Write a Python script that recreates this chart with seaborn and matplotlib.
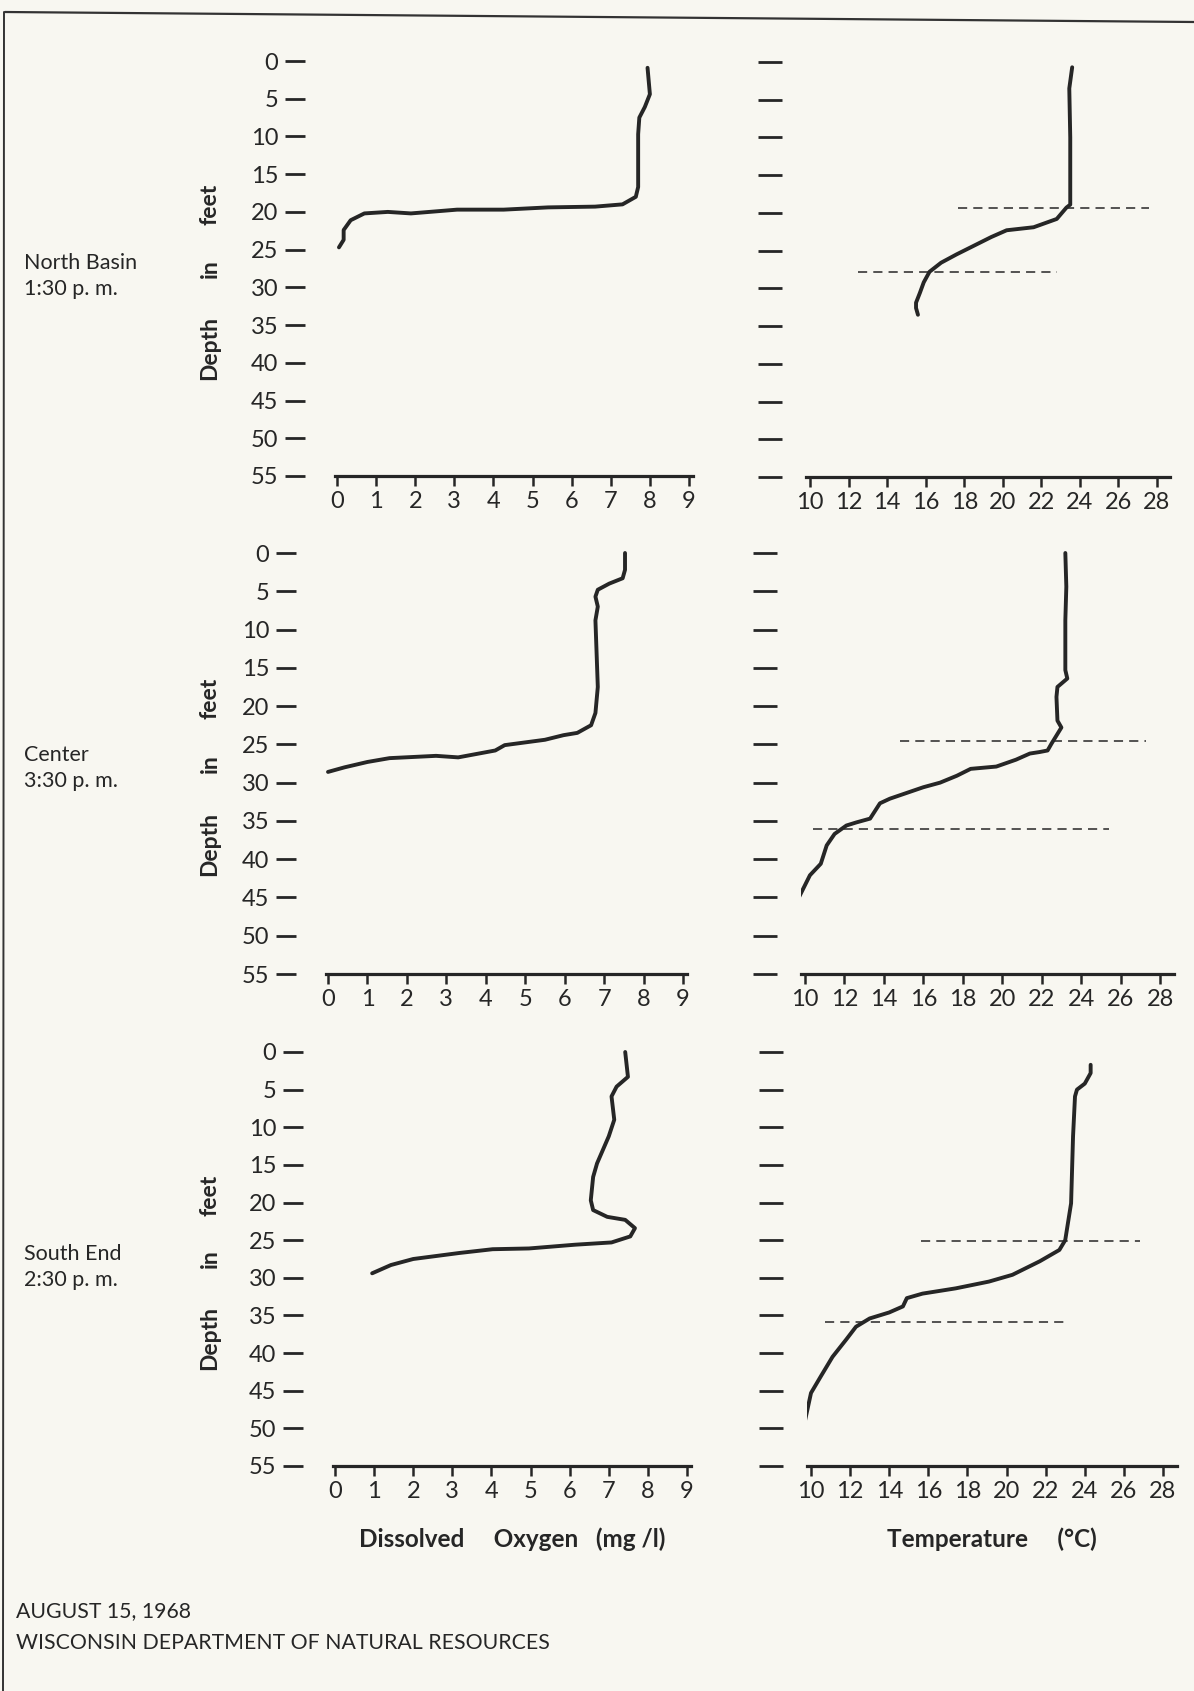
import matplotlib
matplotlib.use("Agg")
import matplotlib.pyplot as plt
import matplotlib.transforms as mtransforms
from matplotlib.lines import Line2D
import seaborn as sns

# --- data ---
stations = ["North Basin", "Center", "South End"]
times = ["1:30 p. m.", "3:30 p. m.", "2:30 p. m."]

depth_ticks = list(range(0, 56, 5))
do_ticks = list(range(0, 10))
temp_ticks = list(range(10, 29, 2))

# dissolved oxygen (mg/l) vs depth (feet)
north_do_depth = [0.9, 4.4, 6.1, 7.5, 9.7, 16.7, 18.0, 19.0, 19.3, 19.4, 19.7, 19.7,
                  20.2, 20.0, 20.2, 21.1, 22.4, 23.7, 24.7]
north_do = [7.94, 8.0, 7.87, 7.73, 7.7, 7.7, 7.64, 7.3, 6.6, 5.4, 4.26, 3.07,
            1.89, 1.3, 0.7, 0.35, 0.17, 0.17, 0.05]

center_do_depth = [0.0, 2.2, 3.3, 4.0, 4.8, 5.7, 7.0, 8.8, 17.5, 20.9, 22.5, 23.5,
                   23.8, 24.4, 25.1, 25.8, 26.7, 26.5, 26.8, 27.3, 28.0, 28.6]
center_do = [7.53, 7.53, 7.47, 7.13, 6.84, 6.78, 6.84, 6.78, 6.84, 6.78, 6.67, 6.32,
             5.97, 5.5, 4.48, 4.24, 3.3, 2.74, 1.56, 1.0, 0.42, 0.0]

south_do_depth = [0.0, 3.3, 4.6, 5.9, 9.0, 11.2, 14.8, 16.6, 19.7, 21.0, 21.9, 22.3,
                  23.4, 24.5, 25.3, 25.6, 26.1, 26.2, 26.7, 27.5, 28.3, 29.4]
south_do = [7.42, 7.49, 7.2, 7.07, 7.14, 7.0, 6.7, 6.6, 6.54, 6.6, 6.96, 7.42,
            7.67, 7.55, 7.07, 6.14, 4.96, 4.03, 3.18, 2.0, 1.43, 0.95]

# temperature (deg C) vs depth (feet)
north_temp_depth = [0.7, 3.5, 10.0, 18.9, 19.3, 20.8, 21.9, 22.3, 23.2, 25.5, 26.6,
                    27.8, 29.2, 30.6, 31.9, 32.6, 33.5]
north_temp = [23.6, 23.45, 23.5, 23.5, 23.3, 22.8, 21.6, 20.2, 19.4, 17.6, 16.8,
              16.2, 15.9, 15.7, 15.5, 15.5, 15.6]

center_temp_depth = [0.0, 4.4, 8.8, 15.3, 16.4, 17.5, 18.8, 21.9, 22.8, 24.9, 25.8,
                     26.0, 26.2, 27.0, 27.9, 28.2, 29.1, 30.0, 30.6, 32.1, 32.7,
                     34.7, 35.2, 35.6, 36.7, 38.2, 40.6, 42.1, 45.2]
center_temp = [23.2, 23.25, 23.2, 23.2, 23.3, 22.8, 22.75, 22.8, 23.0, 22.5, 22.3,
               21.9, 21.4, 20.7, 19.7, 18.4, 17.7, 16.85, 16.0, 14.3, 13.8,
               13.3, 12.6, 12.1, 11.5, 11.1, 10.8, 10.25, 9.65]

south_temp_depth = [1.7, 2.8, 4.2, 5.0, 5.9, 11.2, 20.1, 25.0, 26.3, 27.8, 29.6, 30.5,
                    31.4, 32.1, 32.7, 33.8, 34.6, 35.4, 36.5, 38.2, 40.5, 43.1,
                    45.3, 48.9]
south_temp = [24.3, 24.3, 24.0, 23.6, 23.5, 23.4, 23.3, 23.0, 22.7, 21.7, 20.3, 19.1,
              17.4, 15.7, 14.9, 14.7, 14.0, 13.0, 12.3, 11.8, 11.1, 10.5,
              10.0, 9.7]

# thermocline limits (feet) and the temperature span of each dashed marker
thermo_top = [19.3, 24.5, 25.1]
thermo_top_span = [(17.7, 27.6), (14.8, 27.3), (15.6, 26.8)]
thermo_bottom = [27.8, 36.0, 35.9]
thermo_bottom_span = [(12.5, 22.8), (10.4, 25.4), (10.7, 23.2)]

do_profiles = [(north_do, north_do_depth), (center_do, center_do_depth),
               (south_do, south_do_depth)]
temp_profiles = [(north_temp, north_temp_depth), (center_temp, center_temp_depth),
                 (south_temp, south_temp_depth)]

# --- page layout (pixels on the 1194 x 1691 sheet) ---
W, H = 1194, 1691
INK = "#262626"
PAPER = "#f8f7f1"

# pixel x of first/last tick, pixel y of depth 0 and depth 55
do_frames = [(337, 689, 61, 476), (328, 683, 553, 974), (335, 687, 1052, 1466)]
temp_frames = [(810, 1157, 62, 477), (805, 1160, 553, 974), (811, 1163, 1052, 1466)]
do_lim = (-0.06, 9.11)
temp_lim = (9.8, 28.7)

sns.set_style("white")
plt.rcParams["font.family"] = ["Lato", "DejaVu Sans"]
plt.rcParams["text.color"] = INK

fig = plt.figure(figsize=(W / 100, H / 100), dpi=100, facecolor=PAPER)


def frame_axes(xa, xb, y0, y55, ticks, lim):
    ppu = (xb - xa) / (ticks[-1] - ticks[0])
    left = xa - (ticks[0] - lim[0]) * ppu
    right = xb + (lim[1] - ticks[-1]) * ppu
    top = y0 - (y55 - y0) / 55
    return fig.add_axes([left / W, 1 - y55 / H, (right - left) / W, (y55 - top) / H])


def style_axes(ax, ticks, lim, offset, dash, show_labels):
    ax.set_facecolor("none")
    ax.set_xlim(*lim)
    ax.set_ylim(55, -1)
    ax.set_xticks(ticks)
    ax.set_yticks(depth_ticks)
    for side in ["top", "right", "left"]:
        ax.spines[side].set_visible(False)
    ax.spines["left"].set_position(("outward", offset))
    ax.spines["bottom"].set_linewidth(2.3)
    ax.spines["bottom"].set_color(INK)
    ax.tick_params(axis="y", left=True, direction="out", length=dash, width=2.0,
                   pad=4.5, labelsize=17, colors=INK, labelleft=show_labels)
    ax.tick_params(axis="x", bottom=True, direction="out", length=7, width=1.8,
                   pad=4, labelsize=17, colors=INK)
    ax.set_xlabel("")
    ax.set_ylabel("")


for i in range(3):
    # dissolved oxygen panel
    ax = frame_axes(*do_frames[i], do_ticks, do_lim)
    sns.lineplot(x=do_profiles[i][0], y=do_profiles[i][1], sort=False,
                 estimator=None, color=INK, lw=2.8, ax=ax)
    style_axes(ax, do_ticks, do_lim, offset=21.5, dash=14.5, show_labels=True)

    tr = mtransforms.blended_transform_factory(fig.transFigure, ax.transData)
    for word, d in [("feet", 19.0), ("in", 27.5), ("Depth", 38.0)]:
        ax.text(210 / W, d, word, transform=tr, rotation=90, ha="center",
                va="center", fontsize=16.5, fontweight="bold")

    fig.text(24 / W, 1 - (do_frames[i][2] + 202) / H, stations[i], fontsize=15.5,
             va="center", ha="left")
    fig.text(24 / W, 1 - (do_frames[i][2] + 228) / H, times[i], fontsize=15.5,
             va="center", ha="left")

    if i == 2:
        ax.set_xlabel("Dissolved     Oxygen   (mg /l)", fontsize=17.5,
                      fontweight="bold", labelpad=18)

    # temperature panel
    ax = frame_axes(*temp_frames[i], temp_ticks, temp_lim)
    sns.lineplot(x=temp_profiles[i][0], y=temp_profiles[i][1], sort=False,
                 estimator=None, color=INK, lw=2.8, ax=ax)
    ax.hlines(thermo_top[i], *thermo_top_span[i], colors=INK, lw=1.1,
              linestyles=(0, (6, 4)))
    ax.hlines(thermo_bottom[i], *thermo_bottom_span[i], colors=INK, lw=1.1,
              linestyles=(0, (6, 4)))
    style_axes(ax, temp_ticks, temp_lim, offset=17.5, dash=17, show_labels=False)

    if i == 2:
        ax.set_xlabel("Temperature     (°C)", fontsize=17.5, fontweight="bold",
                      labelpad=18)

# page frame of the scanned sheet
fig.add_artist(Line2D([5 / W, 1.0], [1 - 12 / H, 1 - 22 / H], transform=fig.transFigure,
                      color="#333333", lw=1.6))
fig.add_artist(Line2D([4 / W, 3 / W], [1 - 12 / H, 0.0], transform=fig.transFigure,
                      color="#333333", lw=1.4))

fig.text(16 / W, 1 - 1611 / H, "AUGUST 15, 1968", fontsize=15.3, va="center")
fig.text(16 / W, 1 - 1643 / H, "WISCONSIN DEPARTMENT OF NATURAL RESOURCES",
         fontsize=15.3, va="center")

fig.savefig("out.png", dpi=100, facecolor=PAPER)
